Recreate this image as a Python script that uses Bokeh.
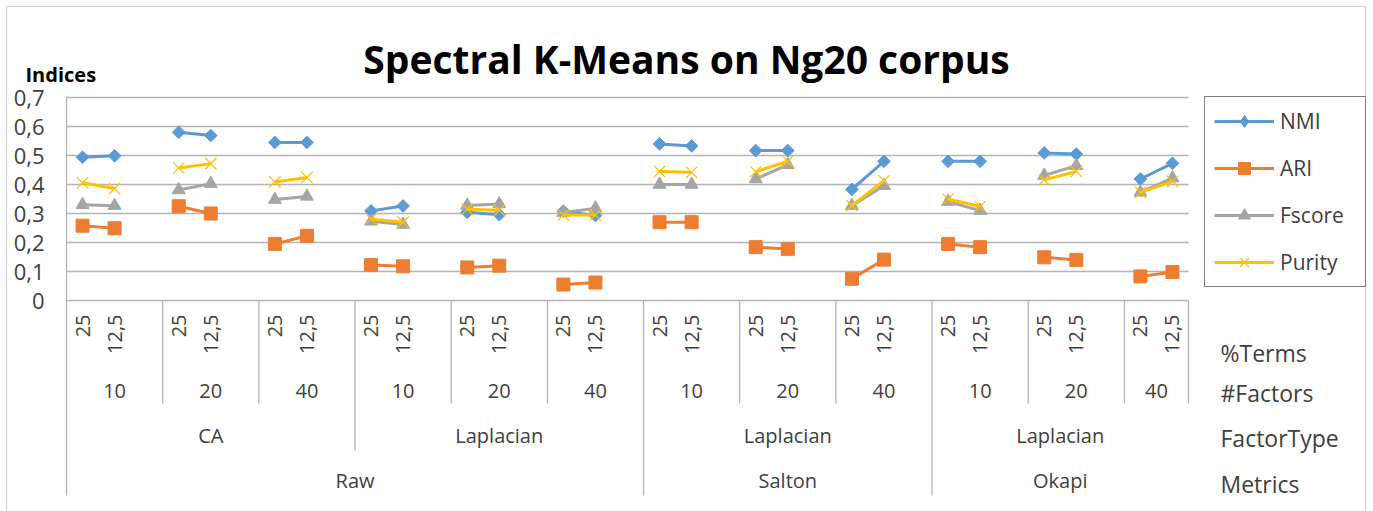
import math
from bokeh.plotting import figure
from bokeh.models import Range1d, Legend, LegendItem
from bokeh.core.properties import value
from bokeh.embed import file_html
from bokeh.resources import INLINE

# ---------------- data ----------------
title_text = "Spectral K-Means on Ng20 corpus"
y_title = "Indices"
metrics = ["Raw", "Raw", "Raw", "Raw", "Raw", "Raw",
           "Salton", "Salton", "Salton", "Okapi", "Okapi", "Okapi"]
factor_types = ["CA", "CA", "CA", "Laplacian", "Laplacian", "Laplacian",
                "Laplacian", "Laplacian", "Laplacian", "Laplacian", "Laplacian", "Laplacian"]
n_factors = ["10", "20", "40", "10", "20", "40", "10", "20", "40", "10", "20", "40"]
pct_terms = ["25", "12,5"]
level_names = ["%Terms", "#Factors", "FactorType", "Metrics"]
y_ticks = [0, 0.1, 0.2, 0.3, 0.4, 0.5, 0.6, 0.7]

nmi = [0.494, 0.499, 0.580, 0.569, 0.545, 0.545, 0.309, 0.326, 0.304, 0.296,
       0.308, 0.293, 0.540, 0.533, 0.517, 0.517, 0.383, 0.480, 0.480, 0.480,
       0.509, 0.505, 0.419, 0.473]
ari = [0.258, 0.249, 0.325, 0.300, 0.195, 0.223, 0.122, 0.118, 0.114, 0.120,
       0.055, 0.062, 0.270, 0.270, 0.184, 0.178, 0.075, 0.141, 0.195, 0.184,
       0.149, 0.140, 0.083, 0.098]
fscore = [0.330, 0.327, 0.381, 0.403, 0.348, 0.359, 0.273, 0.262, 0.328, 0.333,
          0.303, 0.318, 0.400, 0.400, 0.419, 0.468, 0.327, 0.396, 0.341, 0.310,
          0.431, 0.465, 0.373, 0.422]
purity = [0.406, 0.386, 0.457, 0.472, 0.409, 0.424, 0.281, 0.270, 0.315, 0.311,
          0.295, 0.295, 0.445, 0.442, 0.444, 0.480, 0.327, 0.413, 0.350, 0.324,
          0.416, 0.445, 0.373, 0.411]

# name, values, colour, plot marker, size, angle, legend marker
series = [
    ("NMI", nmi, "#5B9BD5", "square", 9, math.pi / 4, "diamond"),
    ("ARI", ari, "#ED7D31", "square", 13, 0.0, None),
    ("Fscore", fscore, "#A5A5A5", "triangle", 13, 0.0, None),
    ("Purity", purity, "#FFC000", "x", 16, 0.0, None),
]

# ---------------- layout ----------------
W, H = 1373, 511
FONT = "Open Sans"
TXT = "#404040"
GRID = "#b4b4b4"
n_groups = len(n_factors)
slots_per_group = len(pct_terms) + 1
n_slots = slots_per_group * n_groups - 1          # last group has no trailing blank
g_start = [slots_per_group * g for g in range(n_groups)]
g_end = [min(s + slots_per_group, n_slots) for s in g_start]

# pixel geometry of the plot area
PX_LEFT, PX_RIGHT, PX_ZERO, PX_PER_UNIT = 66, 1188, 300, 290.0
u = (PX_RIGHT - PX_LEFT) / n_slots
x_lo, x_hi = -PX_LEFT / u, (W - PX_LEFT) / u
y_hi, y_lo = PX_ZERO / PX_PER_UNIT, -(H - PX_ZERO) / PX_PER_UNIT


def px_x(px):
    return (px - PX_LEFT) / u


def px_y(py):
    return (PX_ZERO - py) / PX_PER_UNIT


pt_x = [g_start[g] + j + 0.5 for g in range(n_groups) for j in range(len(pct_terms))]
pt_lbl = [pct_terms[j] for g in range(n_groups) for j in range(len(pct_terms))]

p = figure(width=W, height=H, x_range=Range1d(x_lo, x_hi), y_range=Range1d(y_lo, y_hi),
           output_backend="svg", toolbar_location=None, x_axis_location=None,
           y_axis_location=None, min_border=0)
p.outline_line_color = None
p.grid.visible = False
p.background_fill_color = "white"
p.border_fill_color = "white"

# chart border
bx0, bx1, by1 = px_x(6), px_x(1365), px_y(6)
p.segment(x0=[bx0, bx0, bx1], x1=[bx1, bx0, bx1], y0=[by1, by1, by1], y1=[by1, y_lo, y_lo],
          line_color="#d0d0d0", line_width=1.2)

# y tick labels
p.text(x=[px_x(44)] * len(y_ticks), y=y_ticks,
       text=["0" if t == 0 else ("%.1f" % t).replace(".", ",") for t in y_ticks],
       text_align="right", text_baseline="middle", text_font=value(FONT),
       text_font_size="22px", text_color=TXT)

# gridlines (incl. zero line) across category area
p.segment(x0=[0] * len(y_ticks), x1=[n_slots] * len(y_ticks), y0=y_ticks, y1=y_ticks,
          line_color=GRID, line_width=1.3)

# depth of separators / rows below the axis
Y_TERMS, Y_FACT, Y_TYPE, Y_MET = px_y(314), px_y(390), px_y(435), px_y(480)
D_GROUP, D_TYPE, D_MET = px_y(403), px_y(450), px_y(495)

sx, sy0, sy1 = [0], [max(y_ticks)], [D_MET]
for g in range(1, n_groups):
    if metrics[g] != metrics[g - 1]:
        d = D_MET
    elif factor_types[g] != factor_types[g - 1]:
        d = D_TYPE
    else:
        d = D_GROUP
    sx.append(g_start[g]); sy0.append(0); sy1.append(d)
sx.append(n_slots); sy0.append(0); sy1.append(D_GROUP)
p.segment(x0=sx, x1=sx, y0=sy0, y1=sy1, line_color=GRID, line_width=1.3)

# category labels
p.text(x=pt_x, y=[Y_TERMS] * len(pt_x), text=pt_lbl, angle=math.pi / 2,
       text_align="right", text_baseline="middle", text_font=value(FONT),
       text_font_size="20px", text_color=TXT)
p.text(x=[(a + b) / 2 for a, b in zip(g_start, g_end)], y=[Y_FACT] * n_groups, text=n_factors,
       text_align="center", text_baseline="middle", text_font=value(FONT),
       text_font_size="20px", text_color=TXT)


def spans(keys):
    out = []
    for g, k in enumerate(keys):
        if out and out[-1][0] == k:
            out[-1][2] = g_end[g]
        else:
            out.append([k, g_start[g], g_end[g]])
    return out


type_spans = spans(list(zip(metrics, factor_types)))
p.text(x=[(a + b) / 2 for _, a, b in type_spans], y=[Y_TYPE] * len(type_spans),
       text=[k[1] for k, _, _ in type_spans], text_align="center", text_baseline="middle",
       text_font=value(FONT), text_font_size="20px", text_color=TXT)
met_spans = spans(metrics)
p.text(x=[(a + b) / 2 for _, a, b in met_spans], y=[Y_MET] * len(met_spans),
       text=[k for k, _, _ in met_spans], text_align="center", text_baseline="middle",
       text_font=value(FONT), text_font_size="20px", text_color=TXT)

# level names on the right
p.text(x=[px_x(1220)] * 4, y=[px_y(352), px_y(392), px_y(437), px_y(483)], text=level_names,
       text_align="left", text_baseline="middle", text_font=value(FONT),
       text_font_size="23px", text_color=TXT)

# series
items = []
nan = float("nan")
for name, vals, col, mk, sz, ang, leg_mk in series:
    lx, ly = [], []
    for g in range(n_groups):
        for j in range(len(pct_terms)):
            i = g * len(pct_terms) + j
            lx.append(pt_x[i]); ly.append(vals[i])
        lx.append(nan); ly.append(nan)
    lr = p.line(lx, ly, line_color=col, line_width=3)
    if mk == "x":
        sr = p.scatter(pt_x, vals, marker=mk, size=sz, line_color=col, line_width=1.2)
    else:
        sr = p.scatter(pt_x, vals, marker=mk, size=sz, angle=ang, fill_color=col,
                       line_color=col, line_width=1)
    if leg_mk is not None:
        # legend-only swatch (undrawable NaN point) so the key shows the diamond shape
        sr = p.scatter(x=[nan], y=[nan], marker=leg_mk, fill_color=col, line_color=col,
                       line_width=1)
    items.append(LegendItem(label=name, renderers=[lr, sr]))

legend = Legend(items=items, location=(1204, H - 287), orientation="vertical",
                border_line_color="black", border_line_width=1,
                background_fill_color="white", background_fill_alpha=1.0,
                padding=9, spacing=17, glyph_width=60, glyph_height=30,
                label_height=30, label_width=76, label_standoff=6, margin=0,
                label_text_font=FONT, label_text_font_size="21px", label_text_color=TXT)
p.add_layout(legend)

# titles
p.text(x=[px_x(686)], y=[px_y(58)], text=[title_text], text_align="center",
       text_baseline="middle", text_font=value(FONT), text_font_style="bold",
       text_font_size="39px", text_color="black")
p.text(x=[px_x(25)], y=[px_y(74)], text=[y_title], text_align="left",
       text_baseline="middle", text_font=value(FONT), text_font_style="bold",
       text_font_size="20px", text_color="black")

open("out.html", "w").write(file_html(p, INLINE))
